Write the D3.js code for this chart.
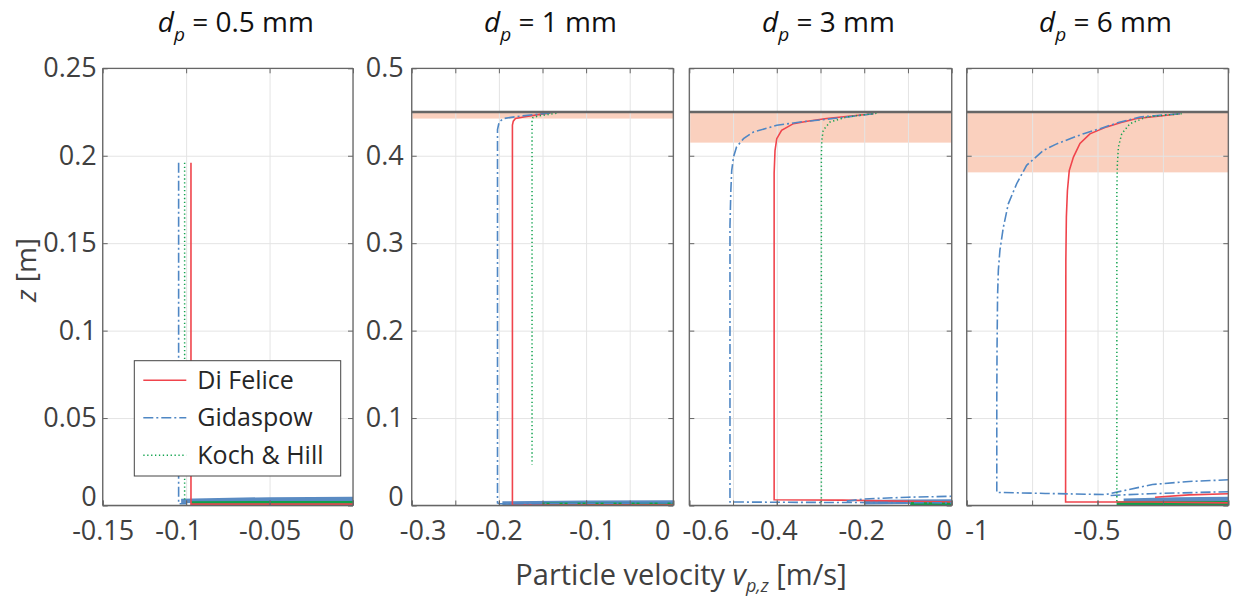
<html>
<head>
<script src="https://cdnjs.cloudflare.com/ajax/libs/d3/7.8.5/d3.min.js"></script>
<style>
  body { margin: 0; background: #fff; }
  text { font-family: "Open Sans", sans-serif; }
  .tick text { fill: #404040; font-size: 27px; }
  .grid line { stroke: #e4e4e4; stroke-width: 1; }
  .grid path { display: none; }
  .box path, .box line { stroke: #666; }
  .box path { stroke-width: 1.3; }
</style>
</head>
<body>
<svg width="1244" height="601"></svg>
<script>
// panel titles and axis settings
var titles = ["0.5 mm", "1 mm", "3 mm", "6 mm"];
var xDomains = [[-0.15, 0], [-0.3, 0], [-0.6, 0], [-1, 0]];
var xGridTicks = [
  [-0.15, -0.1, -0.05, 0],
  [-0.3, -0.25, -0.2, -0.15, -0.1, -0.05, 0],
  [-0.6, -0.5, -0.4, -0.3, -0.2, -0.1, 0],
  [-1, -0.75, -0.5, -0.25, 0]
];
var xLabelTicks = [
  [-0.15, -0.1, -0.05, 0],
  [-0.3, -0.2, -0.1, 0],
  [-0.6, -0.4, -0.2, 0],
  [-1, -0.5, 0]
];
var yDomains = [[0, 0.25], [0, 0.5], [0, 0.5], [0, 0.5]];
var yTicks = [
  [0, 0.05, 0.1, 0.15, 0.2, 0.25],
  [0, 0.1, 0.2, 0.3, 0.4, 0.5],
  [0, 0.1, 0.2, 0.3, 0.4, 0.5],
  [0, 0.1, 0.2, 0.3, 0.4, 0.5]
];
var surfaceZ = [null, 0.45, 0.45, 0.45];
var shadeBottomZ = [null, 0.4425, 0.415, 0.381];
var legendNames = ["Di Felice", "Gidaspow", "Koch & Hill"];

// dp = 0.5 mm
var difelice05 = [[-0.0971, 0.196], [-0.0971, 0.0008], [0, 0.0008]];
var gidaspow05 = [[-0.1045, 0.196], [-0.1045, 0.001], [-0.1, 0.001]];
var kochhill05 = [[-0.1009, 0.196], [-0.1009, 0.002]];
var bedGidaspow05 = [[-0.103, 0.0026], [-0.05, 0.0035], [0, 0.0037]];
var bedKochhill05 = [[-0.097, 0.0012], [0, 0.0013]];

// dp = 1 mm
var difelice1 = [[-0.141, 0.449], [-0.155, 0.447], [-0.17, 0.4445], [-0.181, 0.4425], [-0.1835, 0.4395],
  [-0.1845, 0.435], [-0.1845, 0.0006], [0, 0.0006]];
var gidaspow1 = [[-0.141, 0.449], [-0.16, 0.447], [-0.18, 0.4448], [-0.1947, 0.4425], [-0.1997, 0.4386],
  [-0.2016, 0.43], [-0.2016, 0.003], [-0.199, 0.002], [0, 0.003]];
var kochhill1 = [[-0.134, 0.4485], [-0.145, 0.447], [-0.155, 0.4455], [-0.161, 0.4435], [-0.162, 0.4405],
  [-0.162, 0.047]];
var bedGidaspow1 = [[-0.196, 0.0022], [-0.1, 0.0032], [0, 0.0034]];
var bedKochhill1 = [[-0.15, 0.0008], [0, 0.0008]];

// dp = 3 mm
var difelice3 = [[-0.179, 0.448], [-0.23, 0.4455], [-0.286, 0.4425], [-0.33, 0.4395], [-0.362, 0.4367],
  [-0.389, 0.429], [-0.4, 0.4195], [-0.404, 0.406], [-0.406, 0.38], [-0.406, 0.0065], [-0.25, 0.0062], [0, 0.004]];
var gidaspow3 = [[-0.179, 0.448], [-0.22, 0.4455], [-0.271, 0.4425], [-0.34, 0.439], [-0.4, 0.4348],
  [-0.454, 0.427], [-0.476, 0.4195], [-0.492, 0.41], [-0.499, 0.3985], [-0.503, 0.383], [-0.505, 0.36],
  [-0.507, 0.32], [-0.507, 0.004], [-0.3, 0.0035], [0, 0.003]];
var gidaspow3b = [[-0.24, 0.005], [-0.2, 0.0075], [-0.1, 0.0095], [0, 0.0105]];
var kochhill3 = [[-0.172, 0.4485], [-0.2, 0.447], [-0.24, 0.4443], [-0.278, 0.4386], [-0.294, 0.429],
  [-0.297, 0.4176], [-0.298, 0.4], [-0.298, 0.002]];
var bedGidaspow3 = [[-0.2, 0.0038], [-0.1, 0.0042], [0, 0.0045]];
var bedKochhill3 = [[-0.095, 0.0016], [0, 0.0016]];

// dp = 6 mm
var difelice6 = [[-0.185, 0.448], [-0.26, 0.4455], [-0.35, 0.4425], [-0.41, 0.438], [-0.465, 0.433],
  [-0.529, 0.425], [-0.567, 0.414], [-0.592, 0.3985], [-0.608, 0.383], [-0.615, 0.36], [-0.619, 0.33],
  [-0.621, 0.28], [-0.622, 0.004], [-0.3, 0.004], [0, 0.003]];
var difelice6b = [[-0.28, 0.0095], [-0.15, 0.0122], [0, 0.0135]];
var gidaspow6 = [[-0.185, 0.448], [-0.25, 0.4465], [-0.3375, 0.4443], [-0.42, 0.438], [-0.49, 0.431],
  [-0.55, 0.4255], [-0.605, 0.4195], [-0.66, 0.413], [-0.707, 0.406], [-0.771, 0.389], [-0.809, 0.368],
  [-0.841, 0.345], [-0.86, 0.318], [-0.873, 0.292], [-0.879, 0.269], [-0.882, 0.24], [-0.884, 0.18],
  [-0.885, 0.12], [-0.885, 0.015], [-0.7, 0.0138], [-0.47, 0.0125], [-0.29, 0.024], [-0.15, 0.0275], [0, 0.0294]];
var gidaspow6b = [[-0.45, 0.0115], [-0.3, 0.0135], [0, 0.0158]];
var kochhill6 = [[-0.178, 0.448], [-0.24, 0.4465], [-0.312, 0.4443], [-0.376, 0.4367], [-0.4075, 0.425],
  [-0.42, 0.41], [-0.424, 0.391], [-0.426, 0.36], [-0.426, 0.003]];
var bedGidaspow6 = [[-0.4, 0.0055], [-0.2, 0.007], [0, 0.0075]];
var bedKochhill6 = [[-0.427, 0.0022], [0, 0.0025]];

var panelData = [
  {curves: [["g", gidaspow05], ["k", kochhill05], ["d", difelice05]], beds: [["g", bedGidaspow05], ["k", bedKochhill05]]},
  {curves: [["d", difelice1], ["g", gidaspow1], ["k", kochhill1]], beds: [["g", bedGidaspow1], ["k", bedKochhill1]]},
  {curves: [["d", difelice3], ["g", gidaspow3], ["g", gidaspow3b], ["k", kochhill3]], beds: [["g", bedGidaspow3], ["k", bedKochhill3]]},
  {curves: [["d", difelice6], ["d", difelice6b], ["g", gidaspow6], ["g", gidaspow6b], ["k", kochhill6]], beds: [["g", bedGidaspow6], ["k", bedKochhill6]]}
];

// layout
var lefts = [102.7, 411.7, 689.3, 966.7];
var widths = [250.3, 261.6, 262.4, 261.6];
var top0 = 68.3, bottom0 = 505.5;
var nudges = [
  {"-0.1": -8, "0": -7},
  {"-0.3": 11, "-0.1": 6, "0": -11},
  {"-0.6": 16, "-0.4": -3, "-0.2": -3, "0": -8},
  {"-1": 10, "-0.5": -1, "0": -4}
];
var styles = {
  d: {color: "#f0444c", dash: null, width: 1.6},
  g: {color: "#4f87c4", dash: "10,3,2,3", width: 1.6},
  k: {color: "#13a34f", dash: "1.3,2.6", width: 1.5}
};
var bedColors = {g: "#5a8bc3", k: "#0fa04a"};

var svg = d3.select("svg");
var fmt = function (d) { return String(d); };

panelData.forEach(function (p, i) {
  var w = widths[i], h = bottom0 - top0;
  var x = d3.scaleLinear().domain(xDomains[i]).range([0, w]);
  var y = d3.scaleLinear().domain(yDomains[i]).range([h, 0]);
  var g = svg.append("g").attr("transform", "translate(" + lefts[i] + "," + top0 + ")");

  g.append("clipPath").attr("id", "clip" + i).append("rect").attr("width", w).attr("height", h);

  // shaded region
  if (surfaceZ[i] != null) {
    g.append("rect").attr("x", 0).attr("width", w)
      .attr("y", y(surfaceZ[i])).attr("height", y(shadeBottomZ[i]) - y(surfaceZ[i]))
      .attr("fill", "#fad0be");
  }

  // grid
  g.append("g").attr("class", "grid").attr("transform", "translate(0," + h + ")")
    .call(d3.axisBottom(x).tickValues(xGridTicks[i]).tickSize(-h).tickFormat(""));
  g.append("g").attr("class", "grid")
    .call(d3.axisLeft(y).tickValues(yTicks[i]).tickSize(-w).tickFormat(""));

  var line = d3.line().x(function (d) { return x(d[0]); }).y(function (d) { return y(d[1]); });
  var plot = g.append("g").attr("clip-path", "url(#clip" + i + ")");

  p.beds.forEach(function (b) {
    plot.append("path").datum(b[1]).attr("d", line).attr("fill", "none")
      .attr("stroke", bedColors[b[0]]).attr("stroke-width", 4.5);
  });
  p.curves.forEach(function (c) {
    var s = styles[c[0]];
    plot.append("path").datum(c[1]).attr("d", line).attr("fill", "none")
      .attr("stroke", s.color).attr("stroke-width", s.width)
      .attr("stroke-dasharray", s.dash);
  });

  if (surfaceZ[i] != null) {
    g.append("line").attr("x1", 0).attr("x2", w)
      .attr("y1", y(surfaceZ[i])).attr("y2", y(surfaceZ[i]))
      .attr("stroke", "#666").attr("stroke-width", 2.5);
  }

  // box with inward ticks
  var bx = g.append("g").attr("class", "box").attr("transform", "translate(0," + h + ")")
    .call(d3.axisBottom(x).tickValues(xLabelTicks[i]).tickSize(-5).tickFormat(fmt));
  bx.selectAll("path").attr("d", "M0,0H" + w);
  bx.selectAll(".tick text")
    .attr("y", 15)
    .attr("dx", function (d) { return nudges[i][String(d)] || 0; });
  // minor ticks at grid positions
  g.append("g").attr("class", "box").attr("transform", "translate(0," + h + ")")
    .call(d3.axisBottom(x).tickValues(xGridTicks[i]).tickSize(-5).tickFormat(""))
    .select("path").remove();
  g.append("g").attr("class", "box")
    .call(d3.axisTop(x).tickValues(xGridTicks[i]).tickSize(-5).tickFormat(""))
    .select("path").attr("d", "M0,0H" + w);
  var ly = g.append("g").attr("class", "box")
    .call(d3.axisLeft(y).tickValues(yTicks[i]).tickSize(-5).tickFormat(i < 2 ? fmt : ""));
  ly.select("path").attr("d", "M0,0V" + h);
  ly.selectAll(".tick text").attr("x", i === 0 ? -6 : -8)
    .attr("y", function (d) { return d === 0 ? -9 : 0; });
  g.append("g").attr("class", "box").attr("transform", "translate(" + w + ",0)")
    .call(d3.axisRight(y).tickValues(yTicks[i]).tickSize(-5).tickFormat(""))
    .select("path").attr("d", "M0,0V" + h);

  // title
  var t = svg.append("text").attr("x", lefts[i] + w / 2 + 8).attr("y", 32)
    .attr("text-anchor", "middle").attr("fill", "#111").style("font-size", "28px");
  t.append("tspan").attr("font-style", "italic").text("d");
  t.append("tspan").attr("font-style", "italic").attr("dy", 9).style("font-size", "19px").text("p");
  t.append("tspan").attr("dy", -9).text(" = " + titles[i]);

  // legend
  if (i === 0) {
    var lg = g.append("g").attr("transform", "translate(" + (134.3 - lefts[0]) + "," + (360.7 - top0) + ")");
    lg.append("rect").attr("width", 206.4).attr("height", 115.3)
      .attr("fill", "#fff").attr("stroke", "#444").attr("stroke-width", 1);
    var keys = ["d", "g", "k"];
    legendNames.forEach(function (name, j) {
      var s = styles[keys[j]];
      var yy = 19.5 + j * 37.5;
      lg.append("line").attr("x1", 9).attr("x2", 52).attr("y1", yy).attr("y2", yy)
        .attr("stroke", s.color).attr("stroke-width", s.width).attr("stroke-dasharray", s.dash);
      lg.append("text").attr("x", 63).attr("y", yy).attr("dy", "0.35em")
        .attr("fill", "#262626").style("font-size", "25px").text(name);
    });
  }
});

// axis labels
var xl = svg.append("text").attr("x", 681).attr("y", 585).attr("text-anchor", "middle")
  .attr("fill", "#404040").style("font-size", "29px");
xl.append("tspan").text("Particle velocity ");
xl.append("tspan").attr("font-style", "italic").text("v");
xl.append("tspan").attr("font-style", "italic").attr("dy", 7).style("font-size", "18px").text("p,z");
xl.append("tspan").attr("dy", -7).text(" [m/s]");

var yl = svg.append("text").attr("transform", "translate(36,270) rotate(-90)")
  .attr("text-anchor", "middle").attr("fill", "#404040").style("font-size", "28px");
yl.append("tspan").attr("font-style", "italic").text("z");
yl.append("tspan").text(" [m]");
</script>
</body>
</html>
